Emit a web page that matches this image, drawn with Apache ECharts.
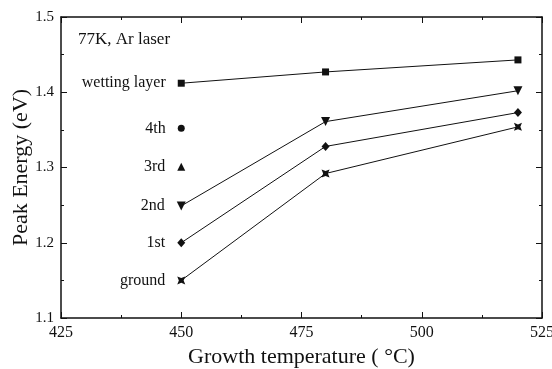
<!DOCTYPE html>
<html>
<head>
<meta charset="utf-8">
<script src="https://cdn.jsdelivr.net/npm/echarts@6/dist/echarts.min.js"></script>
<style>
  html, body { margin: 0; padding: 0; background: #fff; }
  #chart { width: 552px; height: 369px; }
</style>
</head>
<body>
<div id="chart"></div>
<script>
// 数据
const temps = [450, 480, 520];
const wetting = [1.412, 1.427, 1.443];
const fourth = [1.352];
const third = [1.301];
const second = [1.249, 1.361, 1.402];
const first = [1.200, 1.328, 1.373];
const ground = [1.150, 1.292, 1.354];
const xTicks = [425, 450, 475, 500, 525];
const yTicks = [1.1, 1.2, 1.3, 1.4, 1.5];

const FONT = 'Liberation Serif';
const chart = echarts.init(document.getElementById('chart'));

function pts(vals) {
    return vals.map((v, i) => [temps[i], v]);
}

// 每条曲线第一个点左侧标注名称
function makeSeries(name, vals, symbol, size, extra) {
    const data = pts(vals).map((p, i) => {
        if (i !== 0) return p;
        return {
            value: p,
            label: {
                show: true,
                position: 'left',
                distance: 12,
                formatter: name,
                color: '#111',
                fontFamily: FONT,
                fontSize: 16
            }
        };
    });
    return Object.assign({
        name: name,
        type: 'line',
        data: data,
        symbol: symbol,
        symbolSize: size,
        showAllSymbol: true,
        lineStyle: { color: '#111', width: 1 },
        itemStyle: { color: '#111' },
        z: 3
    }, extra || {});
}

const axisCommon = {
    axisLine: { lineStyle: { color: '#111', width: 1.5 } },
    axisTick: { inside: true, length: 6, lineStyle: { color: '#111' } },
    minorTick: { show: true, splitNumber: 2, length: 3, lineStyle: { color: '#111' } },
    splitLine: { show: false }
};

const option = {
    animation: false,
    grid: { left: 61, right: 10, top: 17, bottom: 51, containLabel: false, outerBoundsMode: 'none' },
    graphic: [{
        type: 'text',
        left: 78,
        top: 31,
        style: { text: '77K, Ar laser', fontFamily: FONT, fontSize: 17, fill: '#111' }
    }],
    xAxis: [
        Object.assign({
            type: 'value', min: 425, max: 525, interval: 25,
            name: 'Growth temperature ( °C)',
            nameLocation: 'middle', nameGap: 28,
            nameTextStyle: { fontFamily: FONT, fontSize: 22, color: '#111' },
            axisLabel: {
                fontFamily: FONT, fontSize: 16, color: '#111', margin: 7,
                formatter: v => xTicks.includes(v) ? String(v) : ''
            }
        }, axisCommon),
        Object.assign({
            type: 'value', min: 425, max: 525, interval: 25, position: 'top',
            axisLabel: { show: false }
        }, axisCommon)
    ],
    yAxis: [
        Object.assign({
            type: 'value', min: 1.1, max: 1.5, interval: 0.1,
            name: 'Peak Energy (eV)',
            nameLocation: 'middle', nameGap: 29, nameMoveOverlap: false,
            nameTextStyle: { fontFamily: FONT, fontSize: 22, color: '#111' },
            axisLabel: {
                fontFamily: FONT, fontSize: 15, color: '#111', margin: 7,
                formatter: v => {
                    const t = yTicks.find(y => Math.abs(y - v) < 1e-6);
                    return t !== undefined ? t.toFixed(1) : '';
                }
            }
        }, axisCommon),
        Object.assign({
            type: 'value', min: 1.1, max: 1.5, interval: 0.1, position: 'right',
            axisLabel: { show: false }
        }, axisCommon)
    ],
    series: [
        makeSeries('wetting layer', wetting, 'rect', 7),
        makeSeries('4th', fourth, 'circle', 7),
        makeSeries('3rd', third, 'triangle', 8),
        makeSeries('2nd', second, 'path://M0,0L10,0L5,9Z', 9),
        makeSeries('1st', first, 'diamond', [8, 9]),
        makeSeries('ground', ground, 'path://M0,0L5,2L10,0L8,5L10,10L5,8L0,10L2,5Z', 8)
    ]
};

chart.setOption(option);
</script>
</body>
</html>
